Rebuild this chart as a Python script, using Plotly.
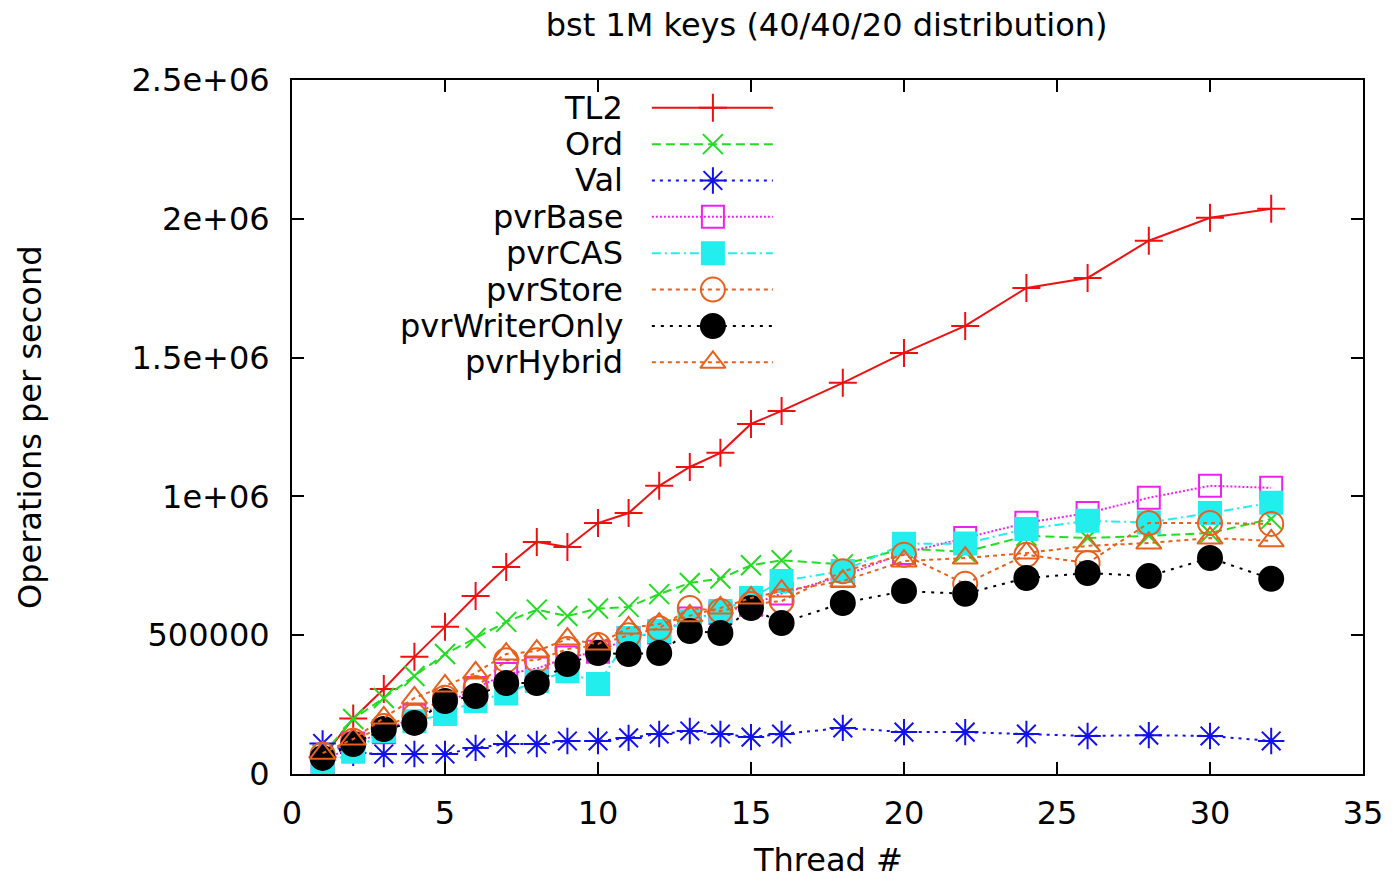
import plotly.graph_objects as go

threads = [1, 2, 3, 4, 5, 6, 7, 8, 9, 10, 11, 12, 13, 14, 15, 16, 18, 20, 22, 24, 26, 28, 30, 32]

tl2 = [60000, 200000, 306000, 422000, 530000, 641000, 746000, 836000, 818000, 904000, 940000, 1038000,
       1106000, 1157000, 1261000, 1308000, 1409000, 1517000, 1614000, 1751000, 1787000, 1921000, 2004000, 2036000]
ord_ = [70000, 198000, 274000, 353000, 432000, 490000, 548000, 592000, 569000, 596000, 602000, 648000,
        688000, 704000, 752000, 770000, 755000, 812000, 800000, 858000, 850000, 858000, 868000, 919000]
val = [110000, 76000, 72000, 72000, 72000, 94000, 108000, 108000, 119000, 119000, 130000, 144000,
       155000, 144000, 133000, 144000, 166000, 151000, 151000, 144000, 137000, 140000, 137000, 119000]
pvr_base = [40000, 110000, 150000, 210000, 250000, 310000, 360000, 380000, 420000, 440000, 490000, 510000,
            560000, 580000, 610000, 650000, 713000, 796000, 850000, 905000, 940000, 995000, 1038000, 1031000]
pvr_cas = [30000, 80000, 155000, 190000, 216000, 263000, 290000, 335000, 370000, 324000, 490000, 515000,
           550000, 587000, 634000, 695000, 731000, 829000, 830000, 883000, 912000, 906000, 940000, 977000]
pvr_store = [70000, 120000, 173000, 210000, 275000, 310000, 410000, 410000, 450000, 465000, 500000, 525000,
             598000, 587000, 612000, 623000, 730000, 790000, 685000, 790000, 760000, 904000, 904000, 901000]
pvr_writer = [58000, 108000, 162000, 184000, 263000, 281000, 328000, 328000, 396000, 436000, 432000, 436000,
              515000, 508000, 598000, 544000, 616000, 659000, 649000, 706000, 724000, 713000, 778000, 703000]
pvr_hybrid = [75000, 126000, 202000, 274000, 317000, 364000, 432000, 443000, 486000, 468000, 526000, 540000,
              570000, 598000, 634000, 659000, 695000, 767000, 778000, 796000, 822000, 832000, 850000, 840000]

names = ["TL2", "Ord", "Val", "pvrBase", "pvrCAS", "pvrStore", "pvrWriterOnly", "pvrHybrid"]
series = [tl2, ord_, val, pvr_base, pvr_cas, pvr_store, pvr_writer, pvr_hybrid]

x_ticks = [0, 5, 10, 15, 20, 25, 30, 35]
y_ticks = [0, 500000, 1000000, 1500000, 2000000, 2500000]
y_tick_text = ["0", "500000", "1e+06", "1.5e+06", "2e+06", "2.5e+06"]

ORANGE = "#e8601c"
styles = [
    dict(color="#ee1111", dash="solid", symbol="cross-thin-open", size=20),
    dict(color="#22dd22", dash="9px,5px", symbol="x-thin-open", size=20),
    dict(color="#1111ee", dash="3px,5px", symbol="asterisk-open", size=22),
    dict(color="#ee22ee", dash="2px,2px", symbol="square-open", size=22),
    dict(color="#22eeee", dash="9px,4px,2px,4px", symbol="square", size=22),
    dict(color=ORANGE, dash="4px,4px", symbol="circle-open", size=24),
    dict(color="#000000", dash="3px,6px", symbol="circle", size=24),
    dict(color=ORANGE, dash="4px,4px", symbol="triangle-up-open", size=22),
]

FONT = "DejaVu Sans"
FS = 32
fig = go.Figure()

for name, ys, st in zip(names, series, styles):
    fig.add_trace(go.Scatter(
        x=threads, y=ys, mode="lines+markers", name=name, showlegend=False,
        line=dict(color=st["color"], dash=st["dash"], width=2),
        marker=dict(symbol=st["symbol"], size=st["size"], color=st["color"],
                    line=dict(color=st["color"], width=2)),
    ))

# custom legend (text right-aligned, sample to its right) on a hidden unit axis
leg_x0, leg_x1, leg_xm = 0.336, 0.449, 0.393
leg_text_x = 0.311
leg_y_top, leg_dy = 0.96, 0.0524
for i, (name, st) in enumerate(zip(names, styles)):
    yy = leg_y_top - i * leg_dy
    fig.add_trace(go.Scatter(
        x=[leg_x0, leg_x1], y=[yy, yy], mode="lines", xaxis="x2", yaxis="y2",
        showlegend=False, hoverinfo="skip",
        line=dict(color=st["color"], dash=st["dash"], width=2),
    ))
    fig.add_trace(go.Scatter(
        x=[leg_xm], y=[yy], mode="markers", xaxis="x2", yaxis="y2",
        showlegend=False, hoverinfo="skip",
        marker=dict(symbol=st["symbol"], size=st["size"], color=st["color"],
                    line=dict(color=st["color"], width=2)),
    ))
    fig.add_annotation(x=leg_text_x, y=yy, xref="x2", yref="y2", text=name,
                       showarrow=False, xanchor="right", yanchor="middle",
                       font=dict(family=FONT, size=FS, color="black"))

# axis titles
fig.add_annotation(x=-0.2446, y=0.5, xref="paper", yref="paper", text="Operations per second",
                   textangle=-90, showarrow=False, xanchor="center", yanchor="middle",
                   font=dict(family=FONT, size=FS, color="black"))
fig.add_annotation(x=0.5, y=-0.124, xref="paper", yref="paper", text="Thread #",
                   showarrow=False, xanchor="center", yanchor="middle",
                   font=dict(family=FONT, size=FS, color="black"))

axis_common = dict(showgrid=False, zeroline=False, showline=True, linecolor="black",
                   linewidth=2, mirror="ticks", ticks="inside", ticklen=12,
                   tickwidth=1.5, tickcolor="black", automargin=False,
                   tickfont=dict(family=FONT, size=FS, color="black"))

fig.update_layout(
    width=1394, height=881,
    margin=dict(l=292, r=31, t=80, b=107),
    paper_bgcolor="white", plot_bgcolor="white",
    title=dict(text="bst 1M keys (40/40/20 distribution)", x=0.593, xanchor="center",
               y=0.972, yanchor="middle", font=dict(family=FONT, size=FS, color="black")),
    xaxis=dict(range=[0, 35], tickvals=x_ticks, ticklabelstandoff=10, **axis_common),
    yaxis=dict(range=[0, 2500000], tickvals=y_ticks, ticktext=y_tick_text,
               ticklabelstandoff=14, **axis_common),
    xaxis2=dict(range=[0, 1], overlaying="x", visible=False, fixedrange=True),
    yaxis2=dict(range=[0, 1], overlaying="y", visible=False, fixedrange=True),
)

fig.write_html("out.html", config={"displayModeBar": False},
               post_script="document.body.style.margin='0';document.body.style.overflow='hidden';")
